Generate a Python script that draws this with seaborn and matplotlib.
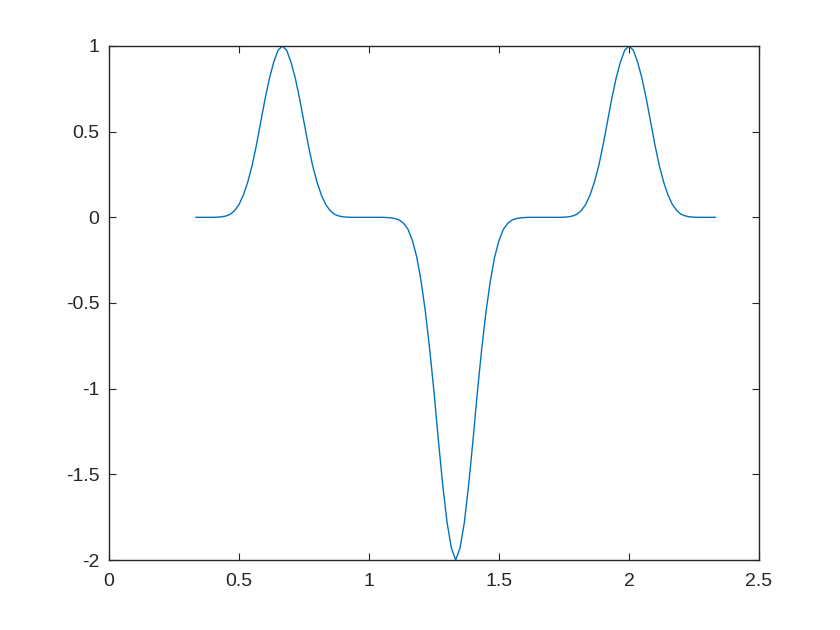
import pandas as pd
import matplotlib
matplotlib.use("Agg")
import matplotlib.pyplot as plt
import seaborn as sns

# x sampled every 1/60 from 1/3 to 7/3
x_vals = [
    0.3333, 0.35, 0.3667, 0.3833, 0.4, 0.4167, 0.4333, 0.45, 0.4667, 0.4833,
    0.5, 0.5167, 0.5333, 0.55, 0.5667, 0.5833, 0.6, 0.6167, 0.6333, 0.65,
    0.6667, 0.6833, 0.7, 0.7167, 0.7333, 0.75, 0.7667, 0.7833, 0.8, 0.8167,
    0.8333, 0.85, 0.8667, 0.8833, 0.9, 0.9167, 0.9333, 0.95, 0.9667, 0.9833,
    1.0, 1.0167, 1.0333, 1.05, 1.0667, 1.0833, 1.1, 1.1167, 1.1333, 1.15,
    1.1667, 1.1833, 1.2, 1.2167, 1.2333, 1.25, 1.2667, 1.2833, 1.3, 1.3167,
    1.3333, 1.35, 1.3667, 1.3833, 1.4, 1.4167, 1.4333, 1.45, 1.4667, 1.4833,
    1.5, 1.5167, 1.5333, 1.55, 1.5667, 1.5833, 1.6, 1.6167, 1.6333, 1.65,
    1.6667, 1.6833, 1.7, 1.7167, 1.7333, 1.75, 1.7667, 1.7833, 1.8, 1.8167,
    1.8333, 1.85, 1.8667, 1.8833, 1.9, 1.9167, 1.9333, 1.95, 1.9667, 1.9833,
    2.0, 2.0167, 2.0333, 2.05, 2.0667, 2.0833, 2.1, 2.1167, 2.1333, 2.15,
    2.1667, 2.1833, 2.2, 2.2167, 2.2333, 2.25, 2.2667, 2.2833, 2.3, 2.3167,
    2.3333,
]

y_vals = [
    0, 0, 0, 0, 0,
    0.001, 0.003, 0.008, 0.018, 0.04, 0.075, 0.13, 0.205, 0.30, 0.42,
    0.555, 0.69, 0.81, 0.905, 0.975,
    1.0,
    0.975, 0.905, 0.81, 0.69, 0.555, 0.42, 0.30, 0.205, 0.13, 0.075,
    0.04, 0.018, 0.008, 0.003, 0.001,
    0, 0, 0, 0, 0, 0, 0, 0,
    -0.001,
    -0.003, -0.007, -0.016, -0.035, -0.07, -0.135, -0.23, -0.37, -0.55, -0.77,
    -1.02, -1.30, -1.56, -1.78, -1.93,
    -2.0,
    -1.93, -1.78, -1.56, -1.30, -1.02, -0.77, -0.55, -0.37, -0.23, -0.135,
    -0.07, -0.035, -0.016, -0.007, -0.003,
    -0.001,
    0, 0, 0, 0, 0, 0, 0, 0,
    0.001, 0.003, 0.008, 0.018, 0.04, 0.075, 0.13, 0.205, 0.30, 0.42,
    0.555, 0.69, 0.81, 0.905, 0.975,
    1.0,
    0.975, 0.905, 0.81, 0.69, 0.555, 0.42, 0.30, 0.205, 0.13, 0.075,
    0.04, 0.018, 0.008, 0.003, 0.001,
    0, 0, 0, 0, 0,
]

x_ticks = [0, 0.5, 1, 1.5, 2, 2.5]
x_labels = ["0", "0.5", "1", "1.5", "2", "2.5"]
y_ticks = [-2, -1.5, -1, -0.5, 0, 0.5, 1]
y_labels = ["-2", "-1.5", "-1", "-0.5", "0", "0.5", "1"]

df = pd.DataFrame({"x": x_vals, "y": y_vals})

sns.set_style("white")
plt.rcParams["font.family"] = ["Liberation Sans", "DejaVu Sans"]

fig = plt.figure(figsize=(8.4, 6.3), dpi=100)
ax = fig.add_axes([0.1298, 0.1111, 0.7738, 0.8159])

sns.lineplot(data=df, x="x", y="y", ax=ax, color="#0072BD", linewidth=1.0,
             sort=False, estimator=None)

ax.set_xlim(0, 2.5)
ax.set_ylim(-2, 1)
ax.set_xticks(x_ticks)
ax.set_xticklabels(x_labels)
ax.set_yticks(y_ticks)
ax.set_yticklabels(y_labels)
ax.set_xlabel("")
ax.set_ylabel("")

edge = "#262626"
for s in ax.spines.values():
    s.set_visible(True)
    s.set_color(edge)
    s.set_linewidth(1.0)
ax.tick_params(axis="both", direction="in", length=5, width=0.8,
               color=edge, labelcolor=edge, labelsize=14,
               top=True, right=True, bottom=True, left=True)
ax.tick_params(axis="x", pad=9)
ax.tick_params(axis="y", pad=7)

fig.savefig("out.png", dpi=100)
